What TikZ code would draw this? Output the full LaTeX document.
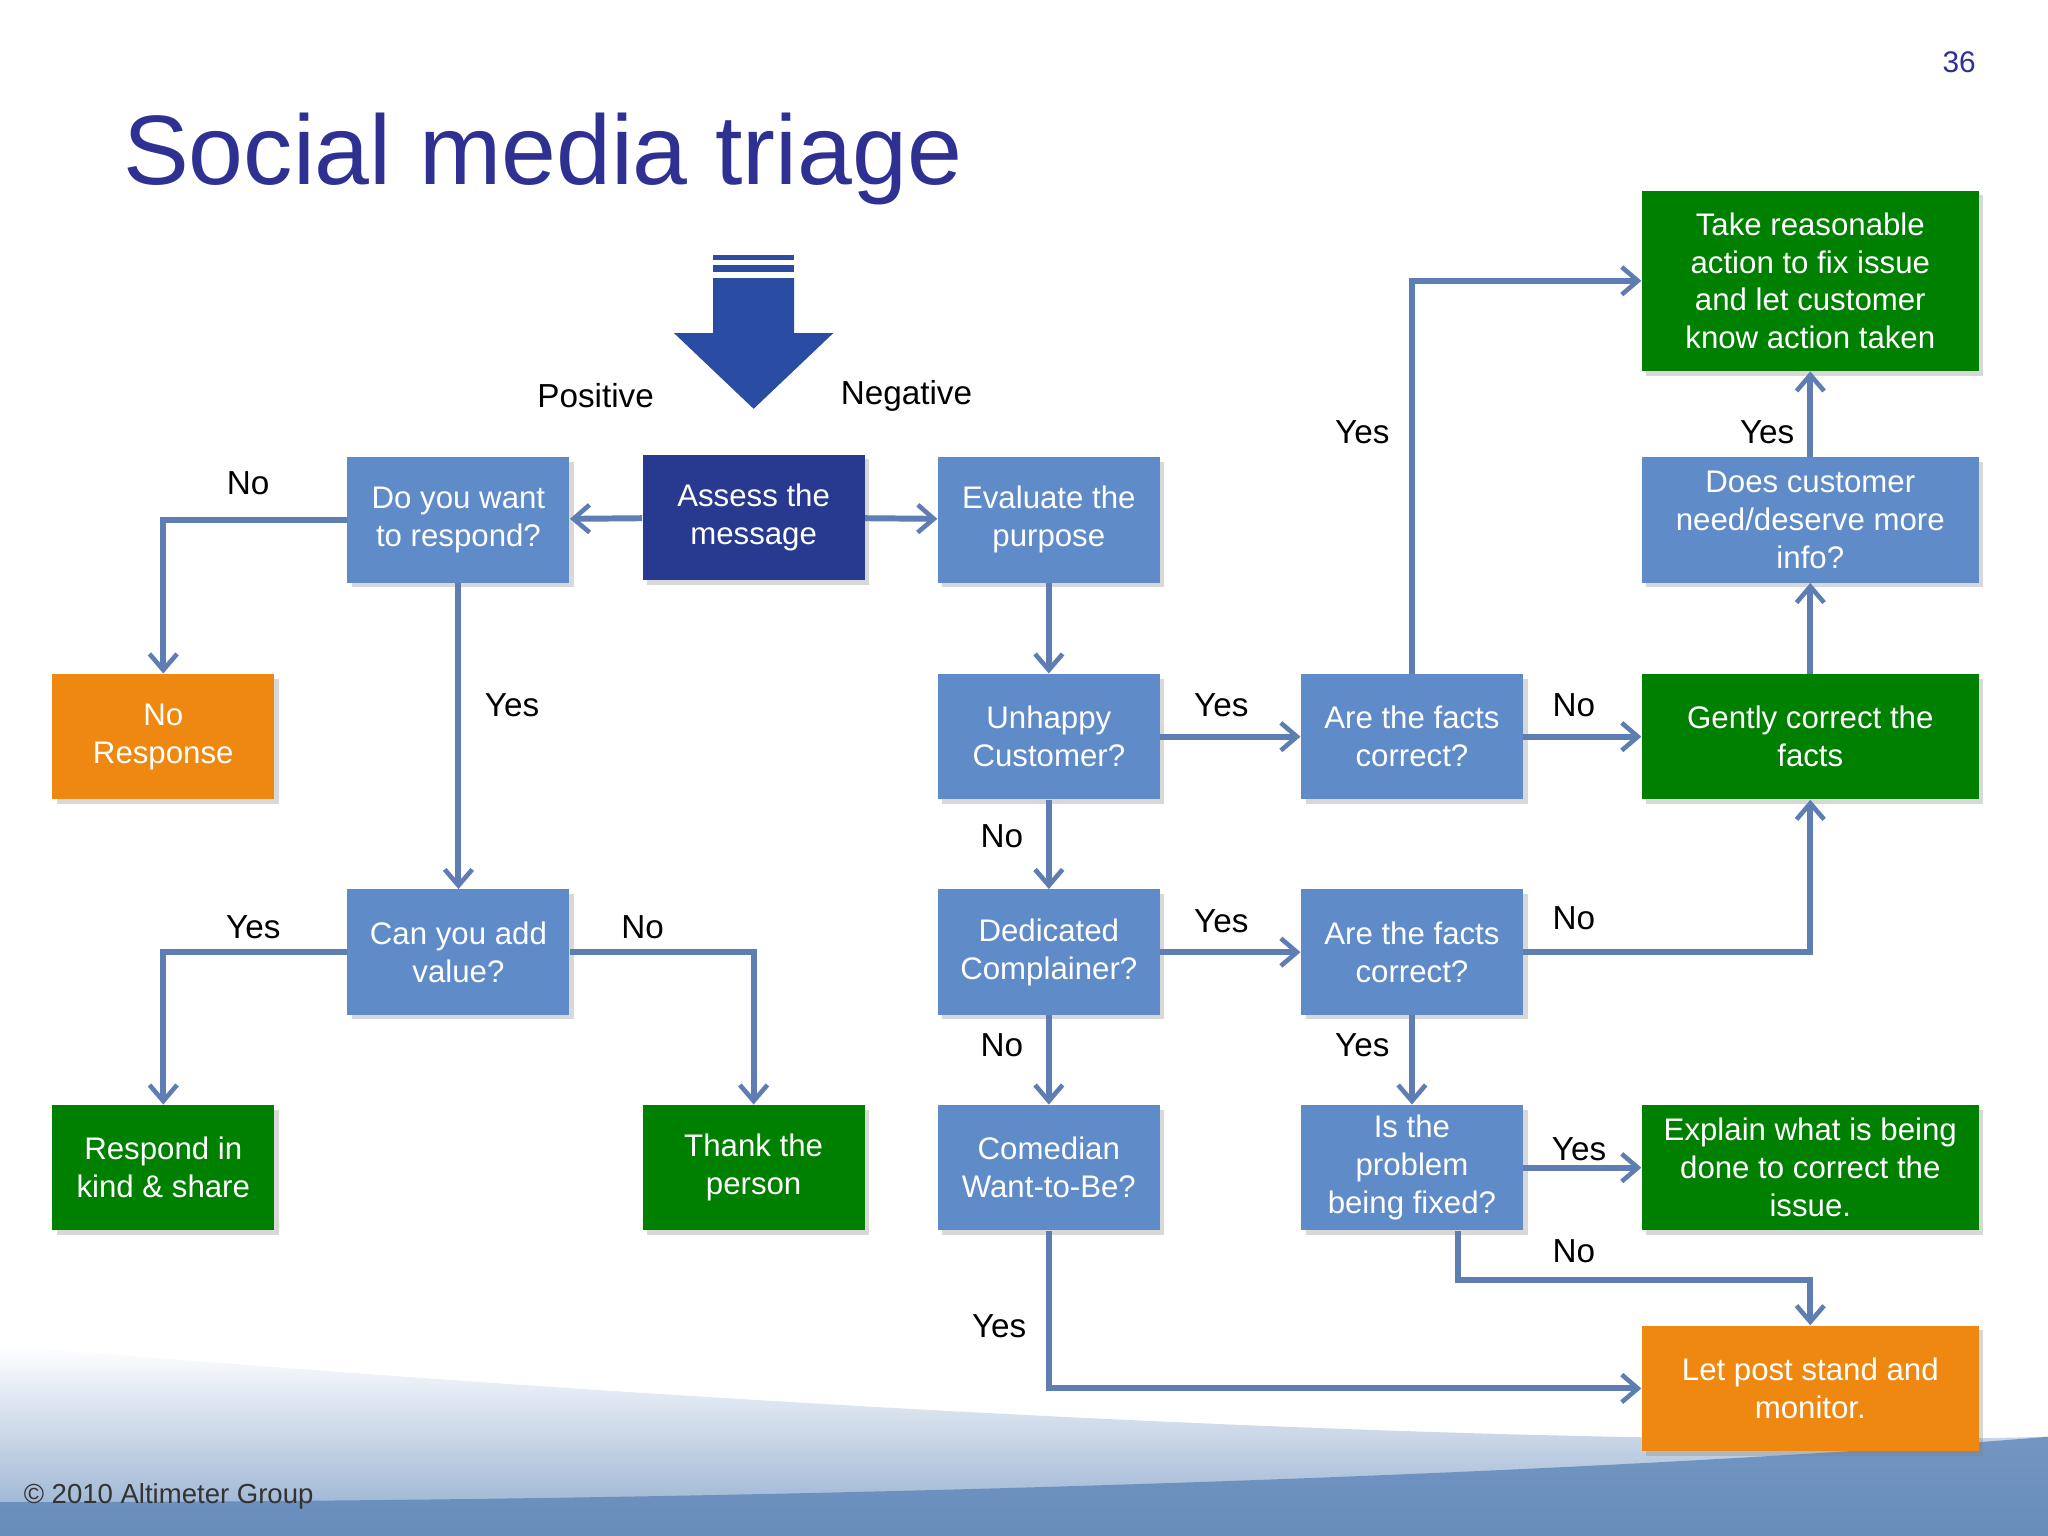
\documentclass[tikz,border=0pt]{standalone}
\usepackage{fontspec}
\setmainfont{Liberation Sans}
\usetikzlibrary{arrows.meta,shadows}
\definecolor{lb}{HTML}{5F8BC8}
\definecolor{db}{HTML}{283A8F}
\definecolor{gr}{HTML}{008000}
\definecolor{orr}{HTML}{EE8811}
\definecolor{ln}{HTML}{5D7DB3}
\definecolor{ttl}{HTML}{2E3192}
\definecolor{big}{HTML}{2A4CA3}
\definecolor{wv}{HTML}{5E86B8}
\newlength{\pxu}\setlength{\pxu}{0.02cm}
\tikzset{
 box/.style={draw=none,minimum width=170\pxu,minimum height=96\pxu,inner sep=1pt,align=center,text=white,font=\fontsize{13.6}{16.5}\selectfont,drop shadow={shadow xshift=2pt,shadow yshift=-2pt,opacity=0.3}},
 wbox/.style={box,minimum width=258\pxu},
 con/.style={draw=ln,line width=2.6pt,-{Straight Barb[length=7pt,width=12pt,line width=2pt]}},
 lab/.style={font=\fontsize{14.5}{17}\selectfont,text=black}
}
\begin{document}
\begin{tikzpicture}[x=0.02cm,y=-0.02cm]
\useasboundingbox (0,0) rectangle (1568,1176);
\fill[white] (0,0) rectangle (1568,1176);
% bottom wave
\shade[top color=white,bottom color=wv!70] (0,1030) .. controls (600,1080) and (1200,1110) .. (1568,1100) -- (1568,1176) -- (0,1176) -- cycle;
\fill[wv,opacity=0.8] (0,1150) .. controls (600,1150) and (1200,1130) .. (1568,1100) -- (1568,1176) -- (0,1176) -- cycle;
\node[anchor=west,text=ttl,font=\fontsize{43}{50}\selectfont] (title) at (88,122) {Social media triage};
\node[text=ttl,font=\fontsize{13}{16}\selectfont] (pg) at (1500,48) {36};
\node[anchor=west,text=black!80,font=\fontsize{12}{14}\selectfont] (copy) at (12,1146) {© 2010 Altimeter Group};
% big arrow
\fill[big] (546,213) -- (608,213) -- (608,255) -- (638,255) -- (577,313) -- (516,255) -- (546,255) -- cycle;
\fill[big] (546,195) rectangle (608,199);
\fill[big] (546,203) rectangle (608,208);
\node[lab] (pos) at (456,303) {Positive};
\node[lab] (neg) at (694,303) {Negative};
% nodes
\node[box,fill=db] (assess) at (577,396) {Assess the\\message};
\node[box,fill=lb] (want) at (351,398) {Do you want\\to respond?};
\node[box,fill=lb] (eval) at (803,398) {Evaluate the\\purpose};
\node[box,fill=orr] (nores) at (125,564) {No\\Response};
\node[box,fill=lb] (unh) at (803,564) {Unhappy\\Customer?};
\node[box,fill=lb] (f1) at (1081,564) {Are the facts\\correct?};
\node[wbox,fill=gr] (gent) at (1386,564) {Gently correct the\\facts};
\node[wbox,fill=lb] (does) at (1386,398) {Does customer\\need/deserve more\\info?};
\node[wbox,fill=gr,minimum height=138\pxu] (take) at (1386,215) {Take reasonable\\action to fix issue\\and let customer\\know action taken};
\node[box,fill=lb] (add) at (351,729) {Can you add\\value?};
\node[box,fill=lb] (ded) at (803,729) {Dedicated\\Complainer?};
\node[box,fill=lb] (f2) at (1081,729) {Are the facts\\correct?};
\node[box,fill=gr] (resp) at (125,894) {Respond in\\kind \& share};
\node[box,fill=gr] (thank) at (577,894) {Thank the\\person};
\node[box,fill=lb] (com) at (803,894) {Comedian\\Want-to-Be?};
\node[box,fill=lb] (fix) at (1081,894) {Is the\\problem\\being fixed?};
\node[wbox,fill=gr] (expl) at (1386,894) {Explain what is being\\done to correct the\\issue.};
\node[wbox,fill=orr] (let) at (1386,1063) {Let post stand and\\monitor.};
\coordinate (c1) at (125,398);
\coordinate (c2) at (125,729);
\coordinate (c3) at (577,729);
\coordinate (c4) at (1081,215);
\coordinate (c5) at (1386,729);
\coordinate (c6) at (1116,980);
\coordinate (c7) at (1386,980);
\coordinate (c8) at (803,1063);
% connectors
\draw[con] (assess) -- (want);
\draw[con] (assess) -- (eval);
\draw[con] (want.west) -- (c1) -- (nores.north);
\draw[con] (want) -- (add);
\draw[con] (add.west) -- (c2) -- (resp.north);
\draw[con] (add.east) -- (c3) -- (thank.north);
\draw[con] (eval) -- (unh);
\draw[con] (unh) -- (f1);
\draw[con] (unh) -- (ded);
\draw[con] (f1) -- (gent);
\draw[con] (f1.north) -- (c4) -- (take.west);
\draw[con] (gent) -- (does);
\draw[con] (does) -- (take);
\draw[con] (ded) -- (f2);
\draw[con] (ded) -- (com);
\draw[con] (f2.east) -- (c5) -- (gent.south);
\draw[con] (f2) -- (fix);
\draw[con] (fix.east) -- (fix.east -| expl.west);
\draw[con] (fix.south -| c6) -- (c6) -- (c7) -- (let.north);
\draw[con] (com.south) -- (c8) -- (let.west);
% labels
\node[lab] at (190,370) {No};
\node[lab] at (392,540) {Yes};
\node[lab] at (194,710) {Yes};
\node[lab] at (492,710) {No};
\node[lab] at (935,540) {Yes};
\node[lab] at (767,640) {No};
\node[lab] at (1205,540) {No};
\node[lab] at (1043,331) {Yes};
\node[lab] at (1353,331) {Yes};
\node[lab] at (935,705) {Yes};
\node[lab] at (767,800) {No};
\node[lab] at (1205,703) {No};
\node[lab] at (1043,800) {Yes};
\node[lab] at (1209,880) {Yes};
\node[lab] at (1205,958) {No};
\node[lab] at (765,1015) {Yes};
\end{tikzpicture}
\end{document}
